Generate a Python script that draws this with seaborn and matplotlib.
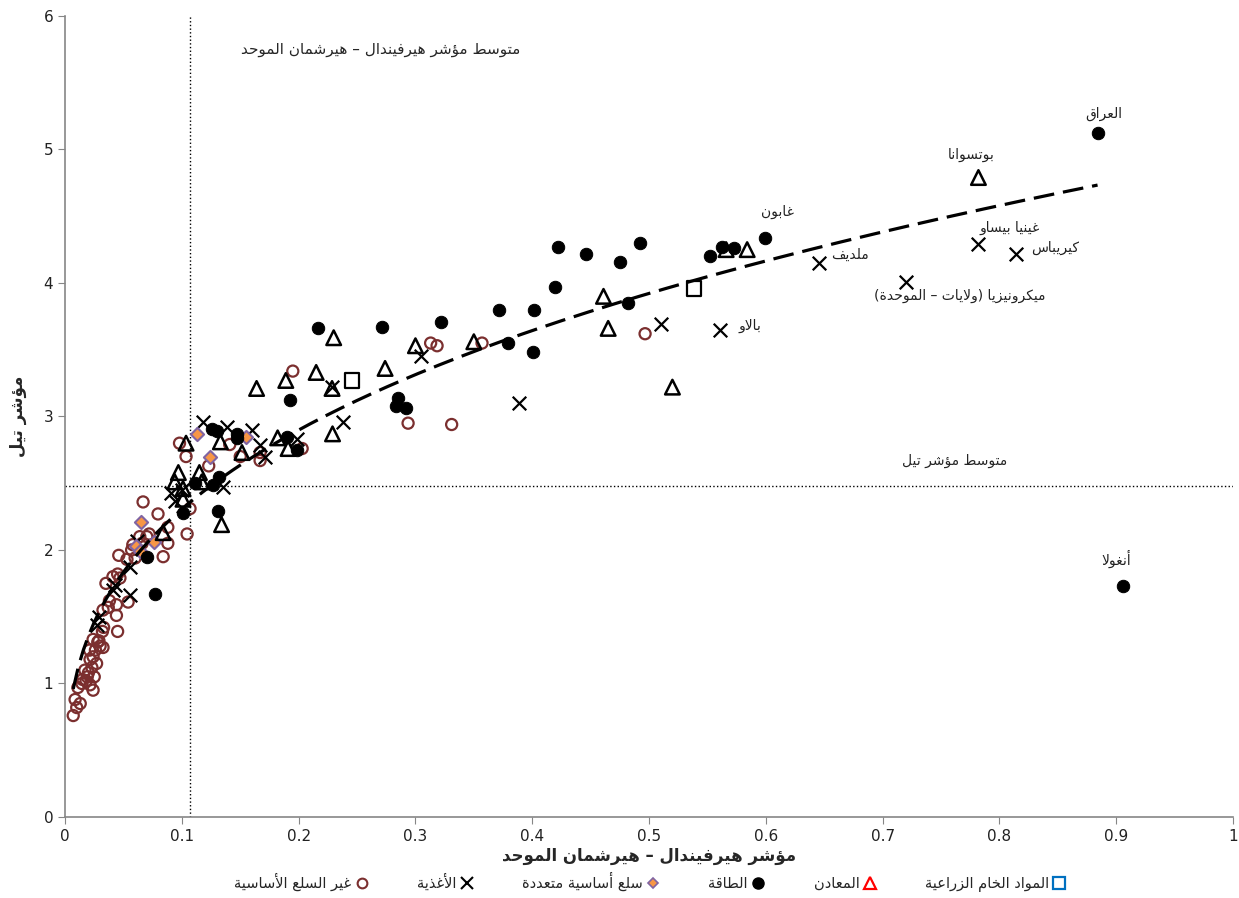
import numpy as np
import pandas as pd
import seaborn as sns
import matplotlib.pyplot as plt
from matplotlib.lines import Line2D

# ---- minimal Arabic shaping (matplotlib has no complex text layout) ----
_forms = {}
_code = 0xFE80
_nforms = [1, 2, 2, 2, 2, 4, 2, 4, 2, 4, 4, 4, 4, 4, 2, 2, 2, 2, 4, 4, 4, 4, 4, 4, 4, 4]
for i, n in enumerate(_nforms):
    _forms[chr(0x0621 + i)] = (_code, n)
    _code += n
for i, n in enumerate([4, 4, 4, 4, 4, 4, 4, 2, 2, 4]):
    _forms[chr(0x0641 + i)] = (_code, n)
    _code += n
_lamalef = {'\u0622': 0xFEF5, '\u0623': 0xFEF7, '\u0625': 0xFEF9, '\u0627': 0xFEFB}


def ar(text):
    chars = list(text)
    out = []
    i = 0
    while i < len(chars):
        c = chars[i]
        if c not in _forms:
            out.append(c)
            i += 1
            continue
        prev = chars[i - 1] if i > 0 else ''
        joins_prev = prev in _forms and _forms[prev][1] == 4
        if c == '\u0644' and i + 1 < len(chars) and chars[i + 1] in _lamalef:
            out.append(chr(_lamalef[chars[i + 1]] + (1 if joins_prev else 0)))
            i += 2
            continue
        nxt = chars[i + 1] if i + 1 < len(chars) else ''
        base, n = _forms[c]
        joins_next = n == 4 and nxt in _forms
        if n == 1:
            out.append(chr(base))
        elif n == 2:
            out.append(chr(base + (1 if joins_prev else 0)))
        else:
            if joins_prev and joins_next:
                out.append(chr(base + 3))
            elif joins_next:
                out.append(chr(base + 2))
            elif joins_prev:
                out.append(chr(base + 1))
            else:
                out.append(chr(base))
        i += 1
    vis = ''.join(reversed(out))
    return vis.translate(str.maketrans('()', ')('))


# ---- data ----
energy_x = [0.884, 0.906, 0.599, 0.5725, 0.5625, 0.552, 0.422, 0.446, 0.475, 0.492, 0.4195,
            0.3716, 0.4015, 0.379, 0.4007, 0.482, 0.271, 0.322, 0.285, 0.283, 0.292, 0.2166,
            0.1926, 0.190, 0.1986, 0.126, 0.130, 0.147, 0.147, 0.132, 0.127, 0.111, 0.131,
            0.101, 0.070, 0.077]
energy_y = [5.12, 1.73, 4.34, 4.26, 4.27, 4.20, 4.27, 4.22, 4.16, 4.30, 3.97,
            3.80, 3.80, 3.55, 3.48, 3.85, 3.67, 3.71, 3.14, 3.08, 3.06, 3.66,
            3.12, 2.85, 2.75, 2.91, 2.89, 2.87, 2.84, 2.55, 2.49, 2.50, 2.29,
            2.28, 1.95, 1.67]

minerals_x = [0.782, 0.584, 0.566, 0.461, 0.465, 0.520, 0.350, 0.300, 0.274, 0.230, 0.215,
              0.189, 0.164, 0.2286, 0.229, 0.182, 0.191, 0.1515, 0.133, 0.1036, 0.115, 0.117,
              0.134, 0.097, 0.094, 0.101, 0.101, 0.084]
minerals_y = [4.79, 4.25, 4.25, 3.90, 3.66, 3.22, 3.56, 3.53, 3.36, 3.59, 3.33,
              3.27, 3.21, 3.21, 2.87, 2.84, 2.76, 2.73, 2.81, 2.80, 2.58, 2.51,
              2.19, 2.58, 2.51, 2.46, 2.38, 2.13]

agri_x = [0.2457, 0.5385]
agri_y = [3.27, 3.96]

food_x = [0.782, 0.814, 0.6455, 0.720, 0.561, 0.510, 0.3887, 0.305, 0.238, 0.2286, 0.199,
          0.118, 0.1387, 0.160, 0.167, 0.171, 0.135, 0.091, 0.094, 0.100, 0.0616, 0.056,
          0.0428, 0.041, 0.0556, 0.029, 0.027]
food_y = [4.29, 4.22, 4.15, 4.01, 3.65, 3.69, 3.10, 3.45, 2.96, 3.22, 2.83,
          2.96, 2.92, 2.90, 2.79, 2.70, 2.47, 2.43, 2.37, 2.45, 2.07, 1.87,
          1.74, 1.70, 1.66, 1.50, 1.44]

multi_x = [0.113, 0.124, 0.155, 0.065, 0.061, 0.064, 0.076]
multi_y = [2.87, 2.70, 2.85, 2.21, 2.03, 1.99, 2.06]

noncom_x = [0.4966, 0.313, 0.3185, 0.357, 0.2937, 0.331, 0.195, 0.141, 0.150, 0.167, 0.167,
            0.203, 0.1036, 0.123, 0.107, 0.1045, 0.098,
            0.0668, 0.0796, 0.088, 0.088, 0.084, 0.046, 0.053, 0.060, 0.064, 0.058, 0.057,
            0.070, 0.066, 0.072,
            0.045, 0.035, 0.047, 0.037, 0.044, 0.044, 0.045, 0.054, 0.0325, 0.032, 0.033,
            0.024, 0.028, 0.0325, 0.021, 0.024, 0.0214, 0.023, 0.017, 0.019, 0.0145, 0.0214,
            0.011, 0.0086, 0.010, 0.007, 0.024, 0.026, 0.029, 0.027, 0.018, 0.025, 0.013,
            0.030, 0.038, 0.041, 0.015, 0.020]
noncom_y = [3.62, 3.55, 3.53, 3.55, 2.95, 2.94, 3.34, 2.79, 2.70, 2.73, 2.67,
            2.76, 2.70, 2.63, 2.31, 2.12, 2.80,
            2.36, 2.27, 2.17, 2.05, 1.95, 1.96, 1.93, 1.94, 2.10, 2.04, 2.00,
            2.10, 2.05, 2.12,
            1.82, 1.75, 1.79, 1.57, 1.59, 1.51, 1.39, 1.61, 1.55, 1.39, 1.42,
            1.33, 1.31, 1.27, 1.25, 1.20, 1.18, 1.12, 1.10, 1.05, 1.00, 0.99,
            0.97, 0.88, 0.82, 0.76, 0.95, 1.25, 1.32, 1.15, 1.02, 1.05, 0.85,
            1.28, 1.62, 1.80, 1.03, 1.08]

labels = ['العراق', 'بوتسوانا', 'غابون', 'غينيا بيساو', 'كيريباس', 'ملديف',
          'ميكرونيزيا (ولايات – الموحدة)', 'بالاو', 'أنغولا']
label_x = [0.889, 0.776, 0.61, 0.809, 0.848, 0.672, 0.766, 0.586, 0.90]
label_y = [5.27, 4.96, 4.53, 4.41, 4.26, 4.21, 3.90, 3.68, 1.93]

avg_hhi = 0.107
avg_theil = 2.48
# power trendline y = a * x^b as shown on the chart
trend_a = 4.93
trend_b = 0.33
trend_x_end = 0.884

# ---- plot ----
sns.set_style('white')
plt.rcParams['font.family'] = ['DejaVu Sans']

fig = plt.figure(figsize=(12.39, 8.98), dpi=100)
ax = fig.add_axes([0.0525, 0.0902, 0.9427, 0.892])

brown = '#7B2F2F'
sns.scatterplot(x=noncom_x, y=noncom_y, ax=ax, marker='o', s=64, fc='none', ec=brown, linewidth=1.6, zorder=3)
sns.scatterplot(x=food_x, y=food_y, ax=ax, marker='x', s=95, color='black', linewidth=1.6, zorder=4)
sns.scatterplot(x=multi_x, y=multi_y, ax=ax, marker='D', s=45, fc='#F79646', ec='#8064A2', linewidth=1.5, zorder=4)
sns.scatterplot(x=energy_x, y=energy_y, ax=ax, marker='o', s=80, color='black', ec='black', zorder=5)
sns.scatterplot(x=minerals_x, y=minerals_y, ax=ax, marker='^', s=110, fc='none', ec='black', linewidth=1.8, zorder=4)
sns.scatterplot(x=agri_x, y=agri_y, ax=ax, marker='s', s=110, fc='none', ec='black', linewidth=1.6, zorder=4)

all_x = np.array(noncom_x + food_x + multi_x + energy_x + minerals_x + agri_x)
tx = np.linspace(all_x.min(), trend_x_end, 200)
line_ax = sns.lineplot(x=tx, y=trend_a * tx ** trend_b, ax=ax, color='black', linewidth=2.3, zorder=6)
line_ax.lines[-1].set_dashes([6.5, 2.8])

ax.axvline(avg_hhi, color='black', linestyle=':', linewidth=1)
ax.axhline(avg_theil, color='black', linestyle=':', linewidth=1)

ax.text(0.27, 5.75, ar('متوسط مؤشر هيرفيندال – هيرشمان الموحد'), ha='center', va='center', fontsize=11)
ax.text(0.762, 2.67, ar('متوسط مؤشر تيل'), ha='center', va='center', fontsize=10)
for t, lx, ly in zip(labels, label_x, label_y):
    ax.text(lx, ly, ar(t), ha='center', va='center', fontsize=10, color='#222222')

ax.set_xlim(0, 1)
ax.set_ylim(0, 6)
ax.set_xticks(np.arange(0, 1.01, 0.1))
ax.set_xticklabels(['0', '0.1', '0.2', '0.3', '0.4', '0.5', '0.6', '0.7', '0.8', '0.9', '1'])
ax.set_yticks(range(7))
ax.tick_params(axis='both', labelsize=11, length=5, color='#868686', direction='out',
               bottom=True, left=True, labelcolor='#222222')
for side in ['top', 'right']:
    ax.spines[side].set_visible(False)
for side in ['left', 'bottom']:
    ax.spines[side].set_color('#868686')
    ax.spines[side].set_linewidth(1.2)

ax.set_xlabel(ar('مؤشر هيرفيندال – هيرشمان الموحد'), fontsize=12, fontweight='bold', labelpad=2)
ax.set_ylabel(ar('مؤشر تيل'), fontsize=12, fontweight='bold', labelpad=12)

handles = [
    Line2D([], [], marker='o', ls='none', mfc='none', mec=brown, mew=1.5, ms=7),
    Line2D([], [], marker='x', ls='none', color='black', mew=1.5, ms=8),
    Line2D([], [], marker='D', ls='none', mfc='#F79646', mec='#8064A2', mew=1.2, ms=5),
    Line2D([], [], marker='o', ls='none', color='black', ms=8),
    Line2D([], [], marker='^', ls='none', mfc='none', mec='red', mew=1.6, ms=9),
    Line2D([], [], marker='s', ls='none', mfc='none', mec='#0070C0', mew=1.6, ms=9),
]
names = ['غير السلع الأساسية', 'الأغذية', 'سلع أساسية متعددة', 'الطاقة', 'المعادن', 'المواد الخام الزراعية']
fig.legend(handles, [ar(n) for n in names], loc='center', bbox_to_anchor=(0.525, 0.018),
           ncol=6, frameon=False, markerfirst=False, fontsize=10.5, columnspacing=3.3,
           handletextpad=0.2, handlelength=1.0)

fig.savefig('out.png', dpi=100)
